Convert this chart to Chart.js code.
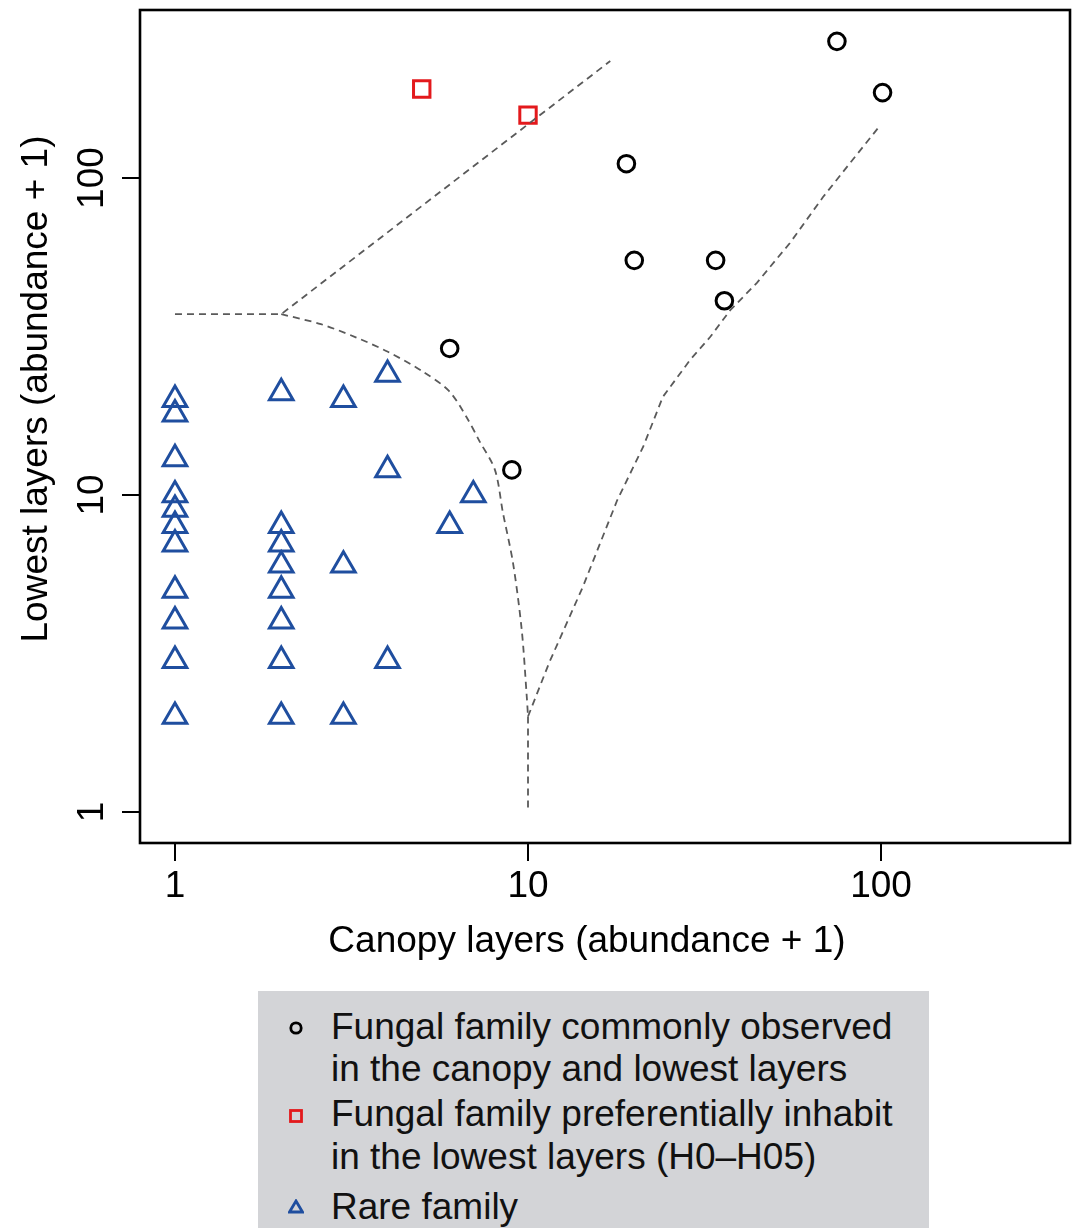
<!DOCTYPE html>
<html>
<head>
<meta charset="utf-8">
<title>CLAM plot</title>
<script src="https://cdn.jsdelivr.net/npm/chart.js@4.4.1/dist/chart.umd.min.js"></script>
<style>
  html, body { margin: 0; padding: 0; background: #fff; overflow: hidden; }
  #wrap { position: relative; width: 1075px; height: 1228px; }
  #legendBox {
    position: absolute; left: 258px; top: 991px; width: 671px; height: 260px;
    background: #d3d4d7;
    font-family: "Liberation Sans", Arial, Helvetica, sans-serif;
    font-size: 37px; color: #111;
  }
  .row { position: absolute; left: 73px; white-space: nowrap; line-height: 42px; }
  .mark { position: absolute; left: 30px; }
</style>
</head>
<body>
<div id="wrap">
  <canvas id="clamChart" width="1075" height="1228"></canvas>
  <div id="legendBox">
    <svg class="mark" style="top:29px" width="16" height="16"><circle cx="8" cy="8" r="5.2" fill="none" stroke="#000" stroke-width="2.8"/></svg>
    <div class="row" style="top:15px">Fungal family commonly observed</div>
    <div class="row" style="top:57px">in the canopy and lowest layers</div>
    <svg class="mark" style="top:117px" width="16" height="16"><rect x="2.5" y="2.5" width="11" height="11" fill="none" stroke="#e3191c" stroke-width="2.8"/></svg>
    <div class="row" style="top:102px">Fungal family preferentially inhabit</div>
    <div class="row" style="top:145px">in the lowest layers (H0–H05)</div>
    <svg class="mark" style="top:208px" width="16" height="16"><polygon points="8,2 14.5,13 1.5,13" fill="none" stroke="#1f4e9f" stroke-width="2.8"/></svg>
    <div class="row" style="top:195px">Rare family</div>
  </div>
</div>
<script>
// abundance + 1, canopy (x) vs lowest layers (y)
const commonCanopy = [75, 101, 19, 20, 34, 36, 6, 9];
const commonLowest = [270, 186, 111, 55, 55, 41, 29, 12];

const lowestCanopy = [5, 10];
const lowestLowest = [191, 158];

const rareCanopy = [1, 1, 1, 1, 1, 1, 1, 1, 1, 1, 1, 2, 2, 2, 2, 2, 2, 2, 2, 3, 3, 3, 4, 4, 4, 6, 7];
const rareLowest = [2, 3, 4, 5, 7, 8, 9, 10, 13, 18, 20, 2, 3, 4, 5, 6, 7, 8, 21, 2, 6, 20, 3, 12, 24, 8, 10];

// dashed boundary lines
const upperLineX = [1, 2, 17.1];
const upperLineY = [37.2, 37.2, 234];
const rareCurveX = [2, 2.59, 3.24, 4.01, 5.01, 5.97, 6.72, 7.26, 8.06, 8.49, 9.07, 9.6, 9.92, 10];
const rareCurveY = [37.2, 34.6, 31.5, 28.3, 24.6, 21.3, 17.5, 14.9, 12.0, 8.8, 6.1, 3.75, 2.31, 2.0];
const rareStemX = [10, 10];
const rareStemY = [2.0, 1.0];
const lowerLineX = [10, 11.5, 14.3, 17.9, 21.2, 24.1, 28.8, 32.8, 37.4, 44.5, 55.2, 68.5, 81.7, 98.1];
const lowerLineY = [2.0, 2.97, 5.13, 9.64, 14.2, 20.4, 26.7, 31.5, 38.3, 46.7, 62.4, 87.1, 111.5, 143.8];

const xTicks = [1, 10, 100];
const yTicks = [1, 10, 100];

const xTitle = "Canopy layers (abundance + 1)";
const yTitle = "Lowest layers (abundance + 1)";

const fontFamily = '"Liberation Sans", Arial, Helvetica, sans-serif';
const lineGray = "#5a5a5a";

const pts = (xs, ys) => xs.map((x, i) => ({ x, y: ys[i] }));

const dashed = (label, xs, ys, tension = 0) => ({
  label,
  data: pts(xs, ys),
  showLine: true,
  pointRadius: 0,
  borderColor: lineGray,
  borderWidth: 1.8,
  borderDash: [7, 5],
  tension,
  fill: false
});

const markers = (label, xs, ys, style, radius, color) => ({
  label,
  data: pts(xs, ys),
  showLine: false,
  pointStyle: style,
  pointRadius: radius,
  pointBorderWidth: 3,
  pointBorderColor: color,
  pointBackgroundColor: "rgba(0,0,0,0)",
  borderColor: color,
  backgroundColor: "rgba(0,0,0,0)"
});

// frame round the plot + the two axis titles
const frameAndTitles = {
  id: "frameAndTitles",
  afterDraw(chart) {
    const { ctx, chartArea: a } = chart;
    ctx.save();
    ctx.strokeStyle = "#000";
    ctx.lineWidth = 2.6;
    ctx.strokeRect(a.left, a.top, a.right - a.left, a.bottom - a.top);

    ctx.fillStyle = "#000";
    ctx.font = "37px " + fontFamily;
    ctx.textAlign = "center";
    ctx.textBaseline = "alphabetic";
    ctx.fillText(xTitle, 587, 952);

    ctx.translate(47, 389);
    ctx.rotate(-Math.PI / 2);
    ctx.fillText(yTitle, 0, 0);
    ctx.restore();
  }
};

new Chart(document.getElementById("clamChart"), {
  type: "scatter",
  data: {
    datasets: [
      dashed("upper boundary", upperLineX, upperLineY),
      dashed("rare boundary", rareCurveX, rareCurveY, 0.3),
      dashed("rare boundary stem", rareStemX, rareStemY),
      dashed("lower boundary", lowerLineX, lowerLineY),
      markers("Fungal family commonly observed in the canopy and lowest layers",
        commonCanopy, commonLowest, "circle", 8.3, "#000"),
      markers("Fungal family preferentially inhabit in the lowest layers (H0–H05)",
        lowestCanopy, lowestLowest, "rect", 11.6, "#e3191c"),
      markers("Rare family", rareCanopy, rareLowest, "triangle", 13.6, "#1f4e9f")
    ]
  },
  options: {
    responsive: false,
    animation: false,
    layout: { autoPadding: false, padding: { top: 10, right: 5, left: 0, bottom: 0 } },
    plugins: { legend: { display: false }, tooltip: { enabled: false } },
    scales: {
      x: {
        type: "logarithmic",
        min: 0.796,
        max: 343,
        bounds: "data",
        afterFit: s => { s.height = 385; s.paddingLeft = 0; s.paddingRight = 0; },
        afterBuildTicks: s => { s.ticks = xTicks.map(v => ({ value: v })); },
        ticks: {
          callback: v => String(v),
          font: { family: fontFamily, size: 37 },
          color: "#000",
          padding: 4,
          maxRotation: 0,
          autoSkip: false
        },
        grid: { drawOnChartArea: false, tickLength: 18, color: "#000", lineWidth: 2 },
        border: { display: false }
      },
      y: {
        type: "logarithmic",
        min: 0.798,
        max: 339,
        bounds: "data",
        afterFit: s => { s.width = 140; s.paddingTop = 0; s.paddingBottom = 0; },
        afterBuildTicks: s => { s.ticks = yTicks.map(v => ({ value: v })); },
        ticks: {
          callback: v => String(v),
          font: { family: fontFamily, size: 37 },
          color: "#000",
          padding: -2,
          minRotation: 90,
          maxRotation: 90,
          crossAlign: "center",
          autoSkip: false
        },
        grid: { drawOnChartArea: false, tickLength: 18, color: "#000", lineWidth: 2 },
        border: { display: false }
      }
    }
  },
  plugins: [frameAndTitles]
});
</script>
</body>
</html>
